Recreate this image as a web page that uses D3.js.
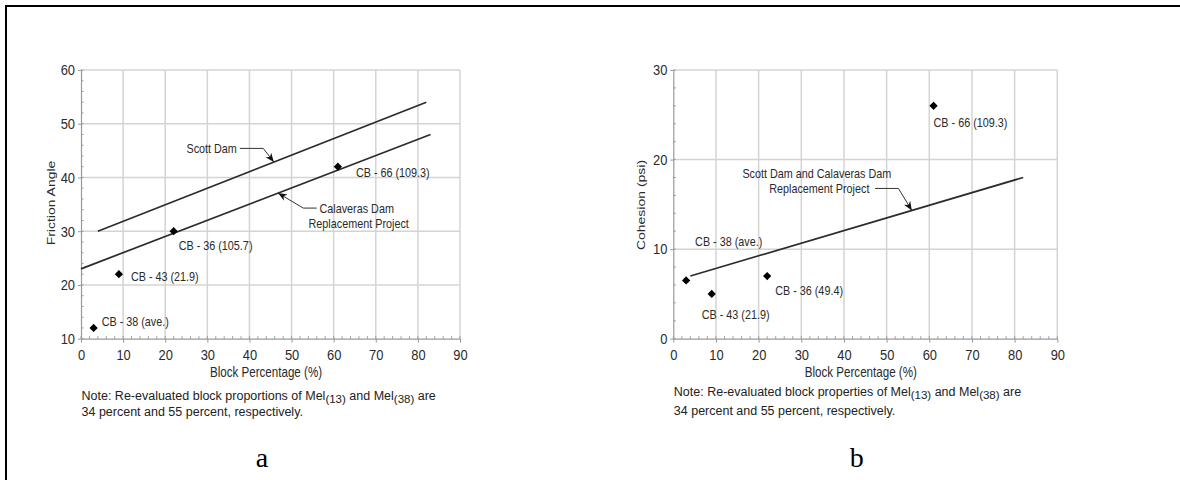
<!DOCTYPE html>
<html>
<head>
<meta charset="utf-8">
<script src="https://cdn.jsdelivr.net/npm/d3@7"></script>
<style>
  body { margin: 0; background: #fff; }
  svg { display: block; }
  text { font-family: "Liberation Sans", Arial, Helvetica, sans-serif; fill: #2a2a2a; }
  .note { fill: #222; }
  .panel-label { font-family: "Liberation Serif", "Times New Roman", serif; fill: #000; }
</style>
</head>
<body>
<div id="chart"></div>
<script>
// data
const blockPct = [3, 9, 22, 61];
const frictionNames = ['CB - 38 (ave.)', 'CB - 43 (21.9)', 'CB - 36 (105.7)', 'CB - 66 (109.3)'];
const frictionAngle = [12, 22, 30, 42];
const cohesionNames = ['CB - 38 (ave.)', 'CB - 43 (21.9)', 'CB - 36 (49.4)', 'CB - 66 (109.3)'];
const cohesionPsi = [6.5, 5, 7, 26];

const scottFriction = [[4, 30], [82, 54]];
const calaverasFriction = [[0, 23], [83, 48]];
const combinedCohesion = [[4, 7], [82, 18]];

const xTicks = [0, 10, 20, 30, 40, 50, 60, 70, 80, 90];
const frictionTicks = [10, 20, 30, 40, 50, 60];
const cohesionTicks = [0, 10, 20, 30];

const W = 1180, H = 480;
const SQUEEZE = 0.8; // chart artwork in the reference is narrowed horizontally

const svg = d3.select('#chart').append('svg')
  .attr('width', W)
  .attr('height', H);

svg.append('defs').append('marker')
  .attr('id', 'arrow')
  .attr('viewBox', '0 0 10 10')
  .attr('refX', 10).attr('refY', 5)
  .attr('markerWidth', 9).attr('markerHeight', 9)
  .attr('markerUnits', 'userSpaceOnUse')
  .attr('orient', 'auto')
  .append('path')
  .attr('d', 'M0,1 L10,5 L0,9 L3,5 Z')
  .attr('fill', '#111');

// frame (only top and left edges show in the reference)
svg.append('line').attr('x1', 5).attr('x2', W).attr('y1', 6).attr('y2', 6)
  .attr('stroke', '#000').attr('stroke-width', 2);
svg.append('line').attr('x1', 6).attr('x2', 6).attr('y1', 5).attr('y2', H)
  .attr('stroke', '#000').attr('stroke-width', 2);

function squeeze(sel, k = SQUEEZE) {
  sel.each(function () {
    const len = this.getComputedTextLength();
    this.setAttribute('textLength', len * k);
    this.setAttribute('lengthAdjust', 'spacingAndGlyphs');
  });
}

function lineAt(seg, xv) {
  const [[x0, y0], [x1, y1]] = seg;
  return y0 + (y1 - y0) * (xv - x0) / (x1 - x0);
}

function drawPanel(p) {
  const g = svg.append('g');
  const x = d3.scaleLinear().domain([0, 90]).range(p.xRange);
  const y = d3.scaleLinear().domain(p.yDomain).range([338.7, 70]);

  // grid
  g.append('g').selectAll('line').data(xTicks.slice(1)).join('line')
    .attr('x1', d => x(d)).attr('x2', d => x(d))
    .attr('y1', y.range()[0]).attr('y2', y.range()[1])
    .attr('stroke', '#d4d4d4').attr('stroke-width', 1.5);
  g.append('g').selectAll('line').data(p.yTicks.slice(1)).join('line')
    .attr('x1', x.range()[0]).attr('x2', x.range()[1])
    .attr('y1', d => y(d)).attr('y2', d => y(d))
    .attr('stroke', '#d4d4d4').attr('stroke-width', 1.5);

  // minor ticks inside the axes
  const xMinor = d3.range(0, 91, 2);
  const yMinor = d3.range(p.yDomain[0], p.yDomain[1] + 1, 2);
  g.append('g').selectAll('line').data(xMinor).join('line')
    .attr('x1', d => x(d)).attr('x2', d => x(d))
    .attr('y1', y.range()[0]).attr('y2', y.range()[0] - 2.5)
    .attr('stroke', '#999').attr('stroke-width', 1);
  g.append('g').selectAll('line').data(yMinor).join('line')
    .attr('x1', x.range()[0]).attr('x2', x.range()[0] + 2.5)
    .attr('y1', d => y(d)).attr('y2', d => y(d))
    .attr('stroke', '#999').attr('stroke-width', 1);

  const xAxis = g.append('g')
    .attr('transform', `translate(0,${y.range()[0]})`)
    .call(d3.axisBottom(x).tickValues(xTicks).tickSizeInner(4).tickSizeOuter(0).tickPadding(7));
  const yAxis = g.append('g')
    .attr('transform', `translate(${x.range()[0]},0)`)
    .call(d3.axisLeft(y).tickValues(p.yTicks).tickSizeInner(3).tickSizeOuter(0).tickPadding(3));
  [xAxis, yAxis].forEach(a => {
    a.select('.domain').attr('stroke', '#999').attr('stroke-width', 1.2);
    a.selectAll('.tick line').attr('stroke', '#999');
    a.selectAll('.tick text').attr('font-size', 15).attr('fill', '#2a2a2a')
      .attr('font-family', '"Liberation Sans", Arial, sans-serif')
      .call(squeeze, 0.86);
  });

  // fitted lines
  p.lines.forEach(seg => {
    g.append('line')
      .attr('x1', x(seg[0][0])).attr('y1', y(seg[0][1]))
      .attr('x2', x(seg[1][0])).attr('y2', y(seg[1][1]))
      .attr('stroke', '#2b2b2b').attr('stroke-width', 1.7);
  });

  // points
  g.append('g').selectAll('path').data(blockPct).join('path')
    .attr('d', d3.symbol(d3.symbolSquare, 34))
    .attr('transform', (d, i) => `translate(${x(d)},${y(p.values[i])}) rotate(45)`)
    .attr('fill', '#000');

  g.append('g').selectAll('text').data(p.names).join('text')
    .attr('x', (d, i) => x(blockPct[i]) + p.labelOff[i][0])
    .attr('y', (d, i) => y(p.values[i]) + p.labelOff[i][1])
    .attr('font-size', 13.5)
    .attr('dominant-baseline', 'central')
    .text(d => d)
    .call(squeeze);

  // callouts
  p.callouts.forEach(c => {
    const tx = x(c.at), ty = y(lineAt(c.seg, c.at));
    const pts = c.path.map(([dx, dy]) => [tx + dx, ty + dy]);
    pts.push([tx, ty]);
    g.append('path')
      .attr('d', d3.line()(pts))
      .attr('fill', 'none')
      .attr('stroke', '#333').attr('stroke-width', 1)
      .attr('marker-end', 'url(#arrow)');
    c.lines.forEach((l, i) => {
      g.append('text')
        .attr('x', tx + c.text[0] + (c.lineDx ? c.lineDx[i] : 0))
        .attr('y', ty + c.text[1] + i * 14.5)
        .attr('font-size', 13.5)
        .attr('text-anchor', c.anchor)
        .text(l)
        .call(squeeze);
    });
  });

  // axis titles
  g.append('text')
    .attr('x', (x.range()[0] + x.range()[1]) / 2 - 4.5).attr('y', 376.5)
    .attr('text-anchor', 'middle').attr('font-size', 14.5)
    .text('Block Percentage (%)')
    .call(squeeze);
  g.append('text')
    .attr('transform', `translate(${p.yTitleX},${p.yTitleY}) rotate(-90) scale(1,${SQUEEZE})`)
    .attr('text-anchor', 'middle').attr('dominant-baseline', 'central')
    .attr('font-size', 14)
    .text(p.yTitle);

  // note (document text, not squeezed)
  const note = g.append('text').attr('class', 'note')
    .attr('x', x.range()[0] + 0.5).attr('y', p.noteY[0]).attr('font-size', 12.5);
  note.append('tspan').text(p.noteStart + ' Mel');
  note.append('tspan').attr('dy', 3).attr('font-size', 11.5).text('(13)');
  note.append('tspan').attr('dy', -3).text(' and Mel');
  note.append('tspan').attr('dy', 3).attr('font-size', 11.5).text('(38)');
  note.append('tspan').attr('dy', -3).text(' are');
  g.append('text').attr('class', 'note')
    .attr('x', x.range()[0] + 0.5).attr('y', p.noteY[1]).attr('font-size', 12.5)
    .text('34 percent and 55 percent, respectively.');

  g.append('text').attr('class', 'panel-label')
    .attr('x', x(43)).attr('y', 467)
    .attr('text-anchor', 'middle').attr('font-size', 28)
    .text(p.label);
}

drawPanel({
  xRange: [81, 460],
  yDomain: [10, 60],
  yTicks: frictionTicks,
  values: frictionAngle,
  names: frictionNames,
  labelOff: [[8, -6], [12, 2], [5, 14], [18, 5.5]],
  lines: [scottFriction, calaverasFriction],
  callouts: [
    { seg: scottFriction, at: 45.8, path: [[-34, -13.7], [-10.6, -13.7]],
      text: [-37, -9.5], anchor: 'end', lines: ['Scott Dam'] },
    { seg: calaverasFriction, at: 46.8, path: [[38.6, 15], [25.2, 15]],
      text: [78.6, 20], anchor: 'middle', lines: ['Calaveras Dam', 'Replacement Project'], lineDx: [0, 2] }
  ],
  yTitle: 'Friction Angle',
  yTitleX: 51.5, yTitleY: 203,
  noteStart: 'Note: Re-evaluated block proportions of',
  noteY: [399.5, 415.5],
  label: 'a'
});

drawPanel({
  xRange: [673.3, 1057.3],
  yDomain: [0, 30],
  yTicks: cohesionTicks,
  values: cohesionPsi,
  names: cohesionNames,
  labelOff: [[9, -39], [-10, 21], [8, 14], [0, 17]],
  lines: [combinedCohesion],
  callouts: [
    { seg: combinedCohesion, at: 55.9, path: [[-36.7, -22], [-13.4, -22]],
      text: [-95, -32], anchor: 'middle', lines: ['Scott Dam and Calaveras Dam', 'Replacement Project'], lineDx: [0, 2.5] }
  ],
  yTitle: 'Cohesion (psi)',
  yTitleX: 641, yTitleY: 205,
  noteStart: 'Note: Re-evaluated block properties of',
  noteY: [396, 414.5],
  label: 'b'
});
</script>
</body>
</html>
